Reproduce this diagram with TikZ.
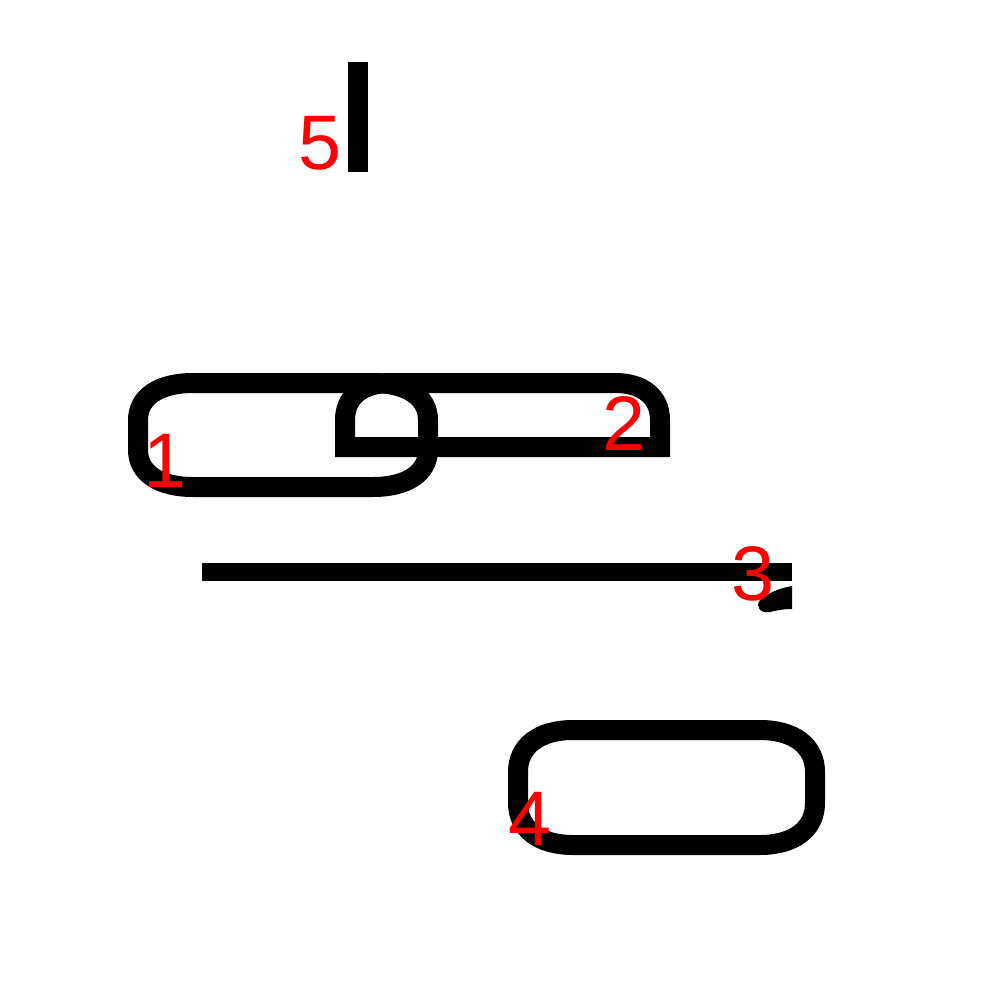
\documentclass[tikz,border=0pt]{standalone}
\usepackage{fontspec}
\setmainfont{Liberation Sans}
\begin{document}
\begin{tikzpicture}[x=0.02cm,y=-0.02cm,
  stroke/.style={line width=0.4cm, line join=round},
  lbl/.style={text=red, font=\fontsize{44}{44}\selectfont, inner sep=0pt, anchor=base}]
\useasboundingbox (0,0) rectangle (1000,1000);
% stroke 1
\draw[stroke] (193,383) -- (373,383) .. controls (407,383) and (428,397) .. (428,420) -- (428,450) .. controls (428,473) and (407,487) .. (373,487) -- (193,487) .. controls (159,487) and (138,473) .. (138,450) -- (138,420) .. controls (138,397) and (159,383) .. (193,383) -- cycle;
% stroke 2
\draw[line width=0.4cm, line join=miter] (345,447) -- (345,420) .. controls (345,397) and (362,383) .. (390,383) -- (615,383) .. controls (643,383) and (660,397) .. (660,420) -- (660,447) -- cycle;
% stroke 3
\draw[line width=0.37cm] (202,572) -- (792,572);
\fill (792,586) .. controls (780,588) and (770,592) .. (760,600) .. controls (755,606) and (760,614) .. (770,612) .. controls (778,610) and (785,609) .. (792,609) -- cycle;
% stroke 4
\draw[stroke] (573,730) -- (760,730) .. controls (794,730) and (815,746) .. (815,772) -- (815,803) .. controls (815,829) and (794,845) .. (760,845) -- (573,845) .. controls (539,845) and (518,829) .. (518,803) -- (518,772) .. controls (518,746) and (539,730) .. (573,730) -- cycle;
% stroke 5
\draw[line width=0.4cm] (358,62) -- (358,172);
% labels
\node[lbl] (n1) at (165,487) {1};
\node[lbl] (n2) at (624,450) {2};
\node[lbl] (n3) at (753,600) {3};
\node[lbl] (n4) at (530,845) {4};
\node[lbl] (n5) at (320,170) {5};
\end{tikzpicture}
\end{document}
